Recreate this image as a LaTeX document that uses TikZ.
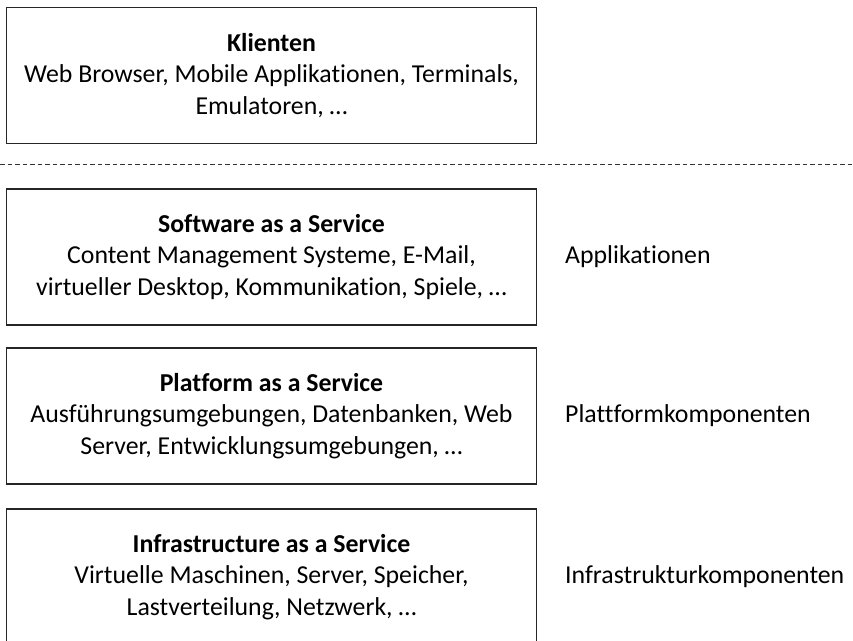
\documentclass[tikz,border=0pt]{standalone}
\usepackage{fontspec}
\setmainfont[Ligatures=NoCommon]{Carlito}
\begin{document}
\begin{tikzpicture}[x=1pt,y=-1pt,
  layerbox/.style={draw=black!85, line width=1.4pt, rectangle,
    minimum width=530pt, minimum height=136pt, inner sep=0pt,
    align=center, font=\fontsize{25.8}{31.5}\selectfont},
  sidelabel/.style={anchor=west, inner sep=0pt,
    font=\fontsize{25.8}{31.5}\selectfont},
  separator/.style={draw=black!80, line width=1.2pt, dash pattern=on 4.5pt off 3pt}]
\useasboundingbox (0,0) rectangle (853,640);

\node[layerbox] (clients) at (271.5,75.5)
  {\textbf{Klienten}\\Web Browser, Mobile Applikationen, Terminals,\\Emulatoren, …};

\coordinate (sepL) at (0,164.5);
\coordinate (sepR) at (853,164.5);
\draw[separator] (sepL) -- (sepR);

\node[layerbox] (saas) at (271.5,257)
  {\textbf{Software as a Service}\\Content Management Systeme, E-Mail,\\virtueller Desktop, Kommunikation, Spiele, …};
\node[layerbox] (paas) at (271.5,416)
  {\textbf{Platform as a Service}\\Ausführungsumgebungen, Datenbanken, Web\\Server, Entwicklungsumgebungen, …};
\node[layerbox] (iaas) at (271.5,577)
  {\textbf{Infrastructure as a Service}\\Virtuelle Maschinen, Server, Speicher,\\Lastverteilung, Netzwerk, …};

\node[sidelabel] (lapp) at (565,257) {Applikationen};
\node[sidelabel] (lplat) at (565,416) {Plattformkomponenten};
\node[sidelabel] (linfra) at (565,577) {Infrastrukturkomponenten};
\end{tikzpicture}
\end{document}
